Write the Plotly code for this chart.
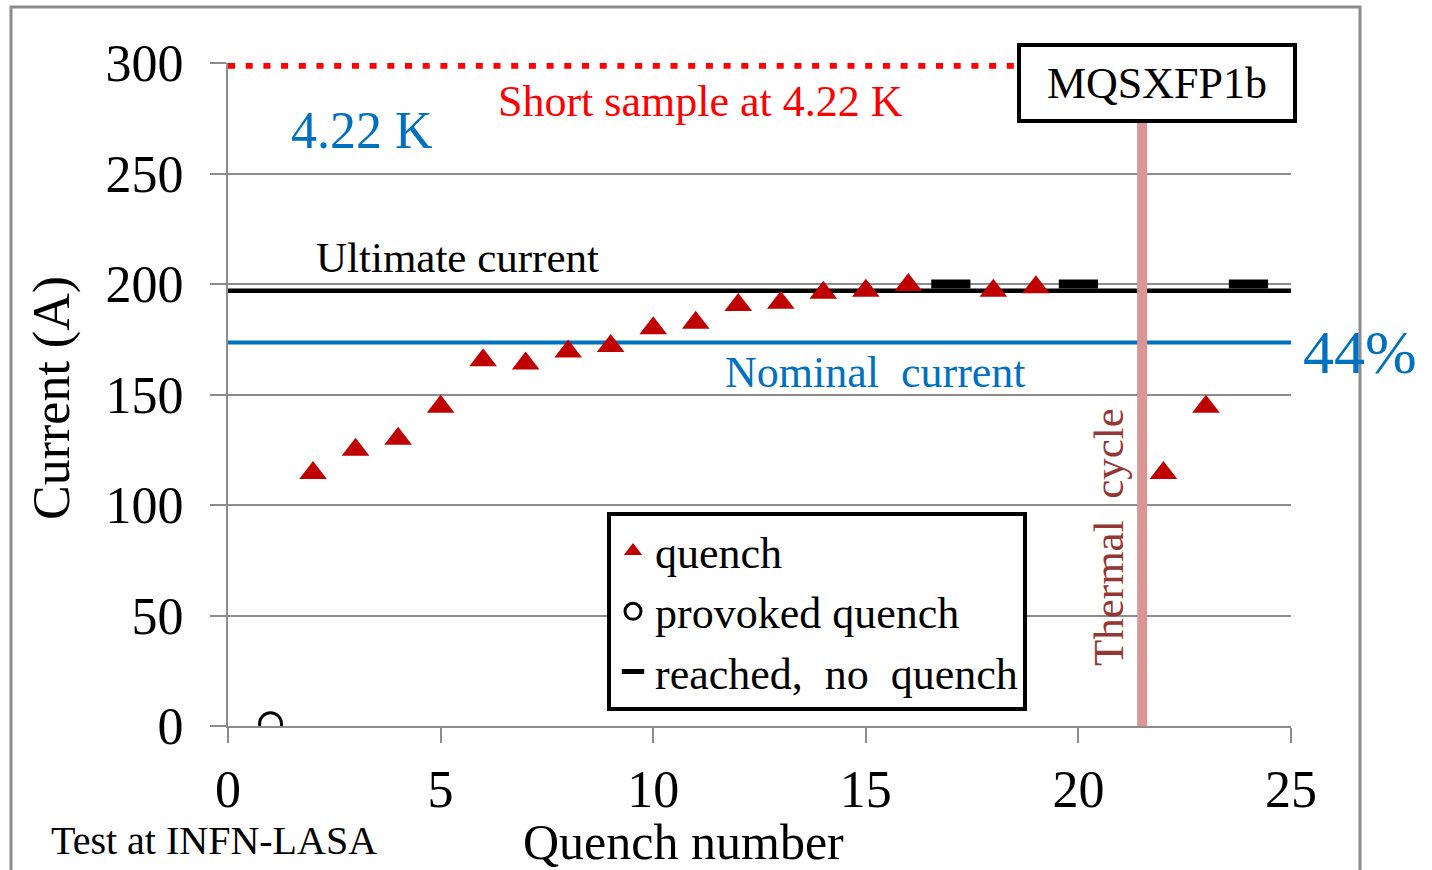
import plotly.graph_objects as go

# ---------------- data ----------------
quench_x = [2, 3, 4, 5, 6, 7, 8, 9, 10, 11, 12, 13, 14, 15, 16, 18, 19, 22, 23]
quench_y = [114.5, 125, 130, 144.5, 165.5, 164, 169.5, 172, 180, 182.5,
            190.5, 191.5, 196, 197, 199.5, 197, 198.5, 114.5, 144.5]
provoked_x = [1]
provoked_y = [1]
reached_x = [17, 20, 24]
reached_y = [200, 200, 200]
ultimate_current = 197
nominal_current = 173.5
short_sample = 299
thermal_cycle_x = 21.5
x_range = [0, 25]
y_range = [0, 300]
x_ticks = [0, 5, 10, 15, 20, 25]
y_ticks = [0, 50, 100, 150, 200, 250, 300]

FONT = "Liberation Serif, Times New Roman, serif"
GRID = "#8c8c8c"
BLUE = "#0070C0"
RED = "#FF0000"
DARKRED = "#C00000"

# plot-area geometry helpers (pixels -> paper)
L, R, T, B = 228, 141, 63, 144
PW, PH = 1432 - L - R, 870 - T - B


def px(xp):
    return (xp - L) / PW


def py(yp):
    return (870 - B - yp) / PH


fig = go.Figure()

# reference lines
fig.add_trace(go.Scatter(x=x_range, y=[short_sample, short_sample], mode="lines",
                         line=dict(color=RED, width=7, dash="7px,10.7px"),
                         showlegend=False, hoverinfo="skip"))
fig.add_trace(go.Scatter(x=x_range, y=[nominal_current, nominal_current], mode="lines",
                         line=dict(color=BLUE, width=4), showlegend=False, hoverinfo="skip"))
fig.add_trace(go.Scatter(x=x_range, y=[ultimate_current, ultimate_current], mode="lines",
                         line=dict(color="black", width=4.5), showlegend=False, hoverinfo="skip"))

# data series
fig.add_trace(go.Scatter(x=quench_x, y=quench_y, mode="markers", name="quench",
                         marker=dict(symbol="triangle-up", size=24, color=DARKRED)))
fig.add_trace(go.Scatter(x=provoked_x, y=provoked_y, mode="markers", name="provoked quench",
                         marker=dict(symbol="circle-open", size=22, color="black",
                                     line=dict(width=3, color="black"))))
fig.add_trace(go.Scatter(x=reached_x, y=reached_y, mode="markers", name="reached,  no  quench",
                         marker=dict(symbol="line-ew", size=28, color="black",
                                     line=dict(width=9, color="black"))))

shapes = [
    # thermal cycle vertical line
    dict(type="line", xref="x", yref="y", x0=thermal_cycle_x, x1=thermal_cycle_x,
         y0=y_range[0], y1=y_range[1], line=dict(color="#D99694", width=10), layer="above"),
    # outer frame
    dict(type="rect", xref="paper", yref="paper", x0=px(11), x1=px(1360), y0=py(880), y1=py(7),
         line=dict(color=GRID, width=3), fillcolor="rgba(0,0,0,0)", layer="below"),
]


def ann(x, y, text, size, color="black", ref="paper", angle=0, **kw):
    d = dict(x=x, y=y, xref="paper", yref="paper", text=text,
             showarrow=False, xanchor="center", yanchor="middle", textangle=angle,
             font=dict(family=FONT, size=size, color=color))
    d.update(kw)
    return d


annotations = [
    ann(px(362), py(130), "4.22 K", 52, BLUE),
    ann(px(700), py(101), "Short sample at 4.22 K", 44, RED),
    ann(px(457), py(257), "Ultimate current", 43),
    ann(px(875), py(372), "Nominal  current", 44, BLUE),
    ann(px(1360), py(352), "44%", 62, BLUE),
    ann(px(1108), py(537), "Thermal  cycle", 43, "#943634", angle=-90),
    ann(px(1157), py(83), "MQSXFP1b", 44, width=272, height=72, borderpad=0,
        borderwidth=4, bordercolor="black", bgcolor="white"),
    ann(px(683), py(842), "Quench number", 50),
    ann(px(52), py(398), "Current (A)", 52, angle=-90),
    ann(px(214), py(840), "Test at INFN-LASA", 40),
]

fig.update_layout(
    width=1432, height=870, autosize=False,
    margin=dict(l=L, r=R, t=T, b=B),
    paper_bgcolor="white", plot_bgcolor="white",
    font=dict(family=FONT, color="black"),
    shapes=shapes, annotations=annotations,
    legend=dict(x=px(607), y=py(512), xanchor="left", yanchor="top",
                bgcolor="white", bordercolor="black", borderwidth=4,
                font=dict(family=FONT, size=44, color="black"),
                tracegroupgap=0, itemwidth=34),
    xaxis=dict(range=x_range, tickvals=x_ticks, showgrid=False, zeroline=False,
               showline=True, linecolor=GRID, linewidth=2,
               ticks="outside", ticklen=15, tickwidth=2, tickcolor=GRID,
               tickfont=dict(family=FONT, size=52, color="black"), ticklabelstandoff=2),
    yaxis=dict(range=y_range, tickvals=y_ticks, showgrid=True, gridcolor=GRID, gridwidth=2,
               zeroline=False, showline=True, linecolor=GRID, linewidth=2,
               ticks="outside", ticklen=16, tickwidth=2, tickcolor=GRID,
               tickfont=dict(family=FONT, size=52, color="black"), ticklabelstandoff=16),
)

fig.write_html("out.html")
